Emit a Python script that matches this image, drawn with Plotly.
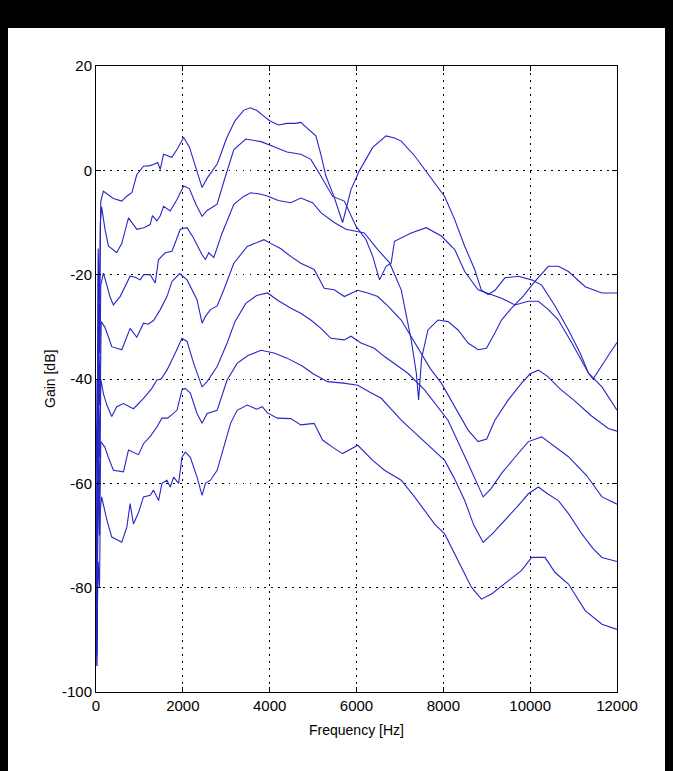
import plotly.graph_objects as go

# ---- data (frequency in Hz, gain in dB) ----
f1 = [0, 25, 50, 80, 110, 170, 250, 400, 594, 700, 826, 941, 1094, 1248, 1350, 1420, 1480, 1556, 1650, 1748, 1865, 2020,
      2150, 2300, 2443, 2560, 2790, 2850, 3000, 3200, 3400, 3550, 3700, 3850, 4000, 4200, 4400, 4600, 4717, 4850,
      5064, 5180, 5295, 5480, 5680, 5873, 6065, 6373, 6682, 6875, 7030, 7337, 7568, 7800, 8030, 8260, 8490, 8722,
      8878, 9033, 9190, 9418, 9727, 10035, 10266, 10573, 10882, 11150, 11345, 11450, 11600, 11800, 12000]
g1 = [-40, -70, -15, -25, -6, -4, -4.5, -5.4, -5.9, -5, -4.3, -0.8, 0.8, 0.9, 1.2, 1.5, 0.2, 3.1, 2.8, 2.5, 4, 6.3,
      4.5, 0.5, -3.3, -1.5, 1.2, 2.5, 6, 9.5, 11.5, 12, 11.5, 10.5, 9.5, 8.7, 9, 9, 9.2, 8.2,
      6.6, 3, -1.1, -5, -10, -3.7, -0.1, 4.4, 6.6, 6.2, 5.6, 2.8, 0.2, -2.5, -5, -9.4, -14.5, -19,
      -23, -23.8, -23, -20.6, -20.3, -21, -22, -26, -30.6, -35, -38.9, -40, -38, -35.5, -33]

f2 = [0, 25, 50, 80, 100, 130, 208, 285, 478, 594, 748, 941, 1100, 1248, 1300, 1403, 1480, 1556, 1710, 1865, 2020, 2150,
      2300, 2443, 2560, 2790, 2950, 3175, 3450, 3800, 4100, 4400, 4717, 4948, 5180, 5450, 5719, 5988, 6220, 6374,
      6530, 6682, 6798, 6875, 7260, 7607, 7954, 8262, 8493, 8801, 9033, 9341, 9650, 9958, 10189, 10420, 10650,
      10960, 11345, 11653, 12000]
g2 = [-60, -85, -20, -35, -10, -7, -11.3, -14.5, -15.8, -14, -9.1, -11.3, -11, -10.4, -8.7, -9.7, -8.7, -6.9, -7.8, -5.6, -3, -3.5,
      -6.5, -8.8, -7.7, -6.5, -2, 4, 6, 5.5, 4.5, 3.5, 3.1, 2.1, -1.1, -5, -5.9, -10.7, -13.3, -16.5,
      -21, -18.4, -17.8, -13.6, -12, -11, -12.6, -15.2, -19.4, -22.9, -23.6, -24.5, -25.8, -25.1, -25.1, -26.7, -28.7,
      -33.1, -38.9, -41.5, -46]

f3 = [0, 25, 50, 80, 110, 170, 250, 320, 400, 555, 786, 900, 1017, 1100, 1248, 1364, 1441, 1595, 1750, 1942, 2097, 2250,
      2443, 2520, 2597, 2713, 2906, 3175, 3400, 3560, 3750, 3946, 4200, 4486, 4717, 4987, 5180, 5487, 5757, 6180,
      6490, 6760, 7030, 7260, 7380, 7430, 7500, 7645, 7877, 8108, 8340, 8570, 8801, 8994, 9187, 9341, 9572, 9850,
      10110, 10420, 10650, 10882, 11267, 11653, 12000]
g3 = [-70, -90, -30, -45, -22, -19.7, -22, -24.2, -25.8, -24.2, -20.3, -20.5, -21, -20, -20, -21.6, -17.1, -15.8, -15.5, -11.3, -11, -13,
      -16.2, -17.1, -15.8, -16.7, -12, -6.5, -5, -4.3, -4.5, -4.9, -5.8, -6.2, -5.3, -6.2, -8.1, -10, -11.3, -12,
      -15.2, -17.7, -22.9, -32.5, -39, -44, -36, -30.6, -28.7, -29, -30.6, -33.1, -34.4, -34.1, -31.2, -28.7, -26.4, -24,
      -21.3, -18.4, -18.4, -19.4, -22.3, -23.5, -23.5]

f4 = [0, 25, 50, 80, 120, 200, 285, 363, 594, 700, 786, 940, 1094, 1200, 1325, 1480, 1634, 1750, 1926, 2097, 2327, 2443,
      2520, 2636, 2790, 2944, 3175, 3483, 3868, 4021, 4250, 4486, 4717, 5024, 5256, 5487, 5719, 6027, 6260, 6490,
      6720, 7030, 7414, 7700, 7954, 8262, 8570, 8800, 9000, 9187, 9495, 9803, 10000, 10189, 10400, 10700, 11000,
      11400, 11800, 12000]
g4 = [-75, -93, -40, -55, -29, -30, -31.9, -33.8, -34.4, -32, -30.3, -32, -29.3, -29.5, -28.8, -26.7, -24.2, -21.3, -19.8, -21, -24.8, -29.3,
      -28, -26.7, -26, -22.9, -17.8, -14.6, -13.3, -14, -15, -16.5, -17.8, -19, -22.6, -22.9, -24.2, -23, -23.5, -24.2,
      -26, -28.7, -34.1, -38, -40.8, -45.3, -49.8, -52, -51.5, -47.9, -44, -40.8, -39, -38.3, -39.5, -42, -44,
      -47, -49.5, -50]

f5 = [0, 25, 50, 80, 110, 170, 250, 363, 478, 632, 864, 1094, 1287, 1403, 1500, 1634, 1826, 1980, 2097, 2250, 2443, 2560,
      2790, 3021, 3200, 3450, 3700, 3950, 4200, 4500, 4717, 4948, 5180, 5410, 5719, 5873, 6104, 6410, 6645, 6952,
      7183, 7568, 8107, 8570, 8917, 9100, 9341, 9650, 9958, 10266, 10500, 10882, 11300, 11653, 12000]
g5 = [-85, -95, -50, -65, -40, -42.8, -45, -47.2, -45.3, -44.7, -45.7, -43.7, -41.8, -40.2, -40, -38.3, -35, -32.2, -32.8, -37, -41.5, -40.5,
      -37.6, -33.1, -29, -25.5, -24, -23.5, -25, -26.5, -27.4, -28.7, -30.3, -32.2, -32.5, -31.8, -33.1, -34.1, -35.7, -37.6,
      -38.9, -42.1, -47.9, -56.2, -62.6, -61, -58.1, -55, -52, -51.1, -52.5, -54.9, -58.5, -62.6, -64]

f6 = [0, 25, 50, 80, 110, 200, 285, 400, 632, 748, 979, 1094, 1250, 1403, 1518, 1650, 1865, 1980, 2058, 2173, 2327, 2443,
      2559, 2790, 2944, 3020, 3250, 3500, 3800, 4100, 4400, 4750, 5000, 5335, 5700, 6030, 6300, 6570, 7030, 7491,
      8030, 8250, 8493, 8700, 8917, 9150, 9418, 9700, 9958, 10189, 10400, 10650, 10900, 11190, 11450, 11653, 12000]
g6 = [-90, -80, -60, -70, -52, -53, -55, -57.5, -57.8, -53.6, -54.5, -52.4, -51, -49.2, -47.5, -47.5, -46, -42.1, -41.8, -42.7, -46.6, -48.5,
      -46.6, -46, -42.1, -40.2, -37, -35.5, -34.5, -35, -36, -37.5, -39, -40.5, -40.8, -41.2, -42.5, -43.7, -47.9, -51.4,
      -55.6, -59, -63.3, -68, -71.3, -69.5, -67.1, -64.5, -62, -60.7, -62, -63.3, -66, -69.7, -72.5, -74.2, -75]

f7 = [0, 25, 50, 80, 100, 130, 250, 363, 594, 710, 786, 863, 979, 1094, 1248, 1325, 1441, 1518, 1634, 1711, 1788, 1903,
      1980, 2058, 2173, 2327, 2443, 2520, 2636, 2790, 2944, 3100, 3250, 3483, 3700, 3830, 3946, 4178, 4486, 4717,
      5024, 5218, 5487, 5680, 6030, 6374, 6645, 7030, 7337, 7800, 8030, 8340, 8647, 8878, 9110, 9495, 9803, 10035,
      10343, 10573, 10882, 11267, 11653, 12000]
g7 = [-95, -88, -75, -80, -65, -62.6, -67, -70.3, -71.3, -68.4, -63.9, -67.8, -65.6, -62.6, -62.3, -61.3, -63.3, -60, -59.4, -60.7, -58.8, -60,
      -55, -54, -55, -58.8, -62.3, -60, -59.4, -57.5, -53, -48.5, -46, -45, -45.8, -45.3, -46.5, -47.5, -47.6, -48.8,
      -48.5, -51.7, -53.3, -54.3, -52.7, -55.6, -57.5, -59.4, -62.6, -67.8, -69.7, -74.8, -79.9, -82.2, -81.2, -78.7, -76.7, -74.2,
      -74.2, -77.1, -79.3, -84.4, -87, -88]

series = [(f1, g1), (f2, g2), (f3, g3), (f4, g4), (f5, g5), (f6, g6), (f7, g7)]

x_ticks = [0, 2000, 4000, 6000, 8000, 10000, 12000]
y_ticks = [-100, -80, -60, -40, -20, 0, 20]
x_title = "Frequency [Hz]"
y_title = "Gain [dB]"

# ---- figure ----
W, H = 673, 771
L, R, T, B = 96, 617, 66, 692  # plot area in pixels
pw, ph = R - L, B - T

fig = go.Figure()
for fx, gy in series:
    fig.add_trace(go.Scatter(x=fx, y=gy, mode="lines",
                             line=dict(color="rgb(38,38,200)", width=1.1),
                             showlegend=False, hoverinfo="skip"))

def px_x(px):
    return (px - L) / pw

def px_y(py):
    return (B - py) / ph

# white canvas inside black frame
fig.add_shape(type="rect", xref="paper", yref="paper", layer="below",
              x0=px_x(8), x1=px_x(665), y0=px_y(780), y1=px_y(28),
              fillcolor="white", line=dict(width=0))

FONT = "Liberation Sans, Arial, Helvetica"
axis_common = dict(showline=True, linecolor="black", linewidth=1, mirror="allticks",
                   ticks="inside", ticklen=5, tickcolor="black",
                   showgrid=True, gridcolor="black", gridwidth=1.2, griddash="1.5px,5.5px",
                   zeroline=False, tickfont=dict(family=FONT, size=15, color="black"))

fig.update_xaxes(range=[0, 12000], tickvals=x_ticks, ticktext=[str(v) for v in x_ticks], **axis_common)
fig.update_yaxes(range=[-100, 20], tickvals=y_ticks, ticktext=[str(v) for v in y_ticks], **axis_common)

fig.add_annotation(text=x_title, xref="paper", yref="paper", x=0.5, y=px_y(730),
                   showarrow=False, font=dict(family=FONT, size=14, color="black"),
                   xanchor="center", yanchor="middle")
fig.add_annotation(text=y_title, xref="paper", yref="paper", x=px_x(50), y=0.5, textangle=-90,
                   showarrow=False, font=dict(family=FONT, size=14, color="black"),
                   xanchor="center", yanchor="middle")

fig.update_layout(width=W, height=H, autosize=False,
                  margin=dict(l=L, r=W - R, t=T, b=H - B, pad=0),
                  paper_bgcolor="black", plot_bgcolor="white")

fig.write_html("out.html", config={"displayModeBar": False},
               post_script="document.body.style.margin='0px';document.body.style.background='black';")
